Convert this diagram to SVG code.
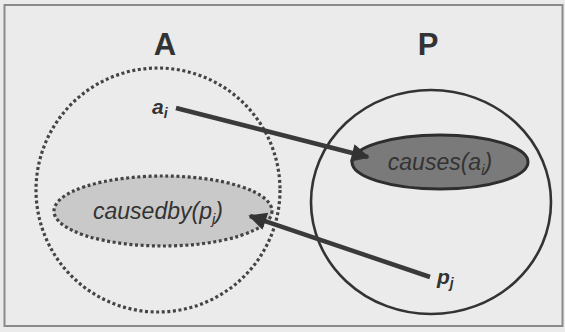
<svg xmlns="http://www.w3.org/2000/svg" width="565" height="332" viewBox="0 0 565 332">
<defs>
<style>
.lbl{font-family:"Liberation Sans",Arial,sans-serif;font-weight:bold;font-size:31px;fill:#333;text-anchor:middle}
.it{font-family:"Liberation Sans",Arial,sans-serif;font-style:italic;font-size:23px;fill:#333;text-anchor:middle}
.var{font-family:"Liberation Sans",Arial,sans-serif;font-style:italic;font-weight:bold;font-size:21px;fill:#333}
.dot{fill:none;stroke:#444;stroke-width:3.2;stroke-dasharray:3 2.6}
.conn{stroke:#3a3a3a;stroke-width:4.5;fill:none}
</style>
<marker id="ah" viewBox="0 0 10 10" refX="9" refY="5" markerWidth="4.4" markerHeight="4" orient="auto" markerUnits="strokeWidth">
<path d="M0,0 L10,5 L0,10 z" fill="#333"/>
</marker>
</defs>
<rect x="0" y="0" width="565" height="332" fill="#ebebeb"/>
<rect x="4.5" y="5" width="558" height="321" fill="none" stroke="#8a8a8a" stroke-width="2"/>
<g id="setA">
<text class="lbl" x="165" y="55">A</text>
<circle class="dot" cx="158" cy="190" r="122"/>
</g>
<g id="setP">
<text class="lbl" x="428" y="55">P</text>
<ellipse cx="431" cy="202" rx="120" ry="112" fill="none" stroke="#333" stroke-width="2.6"/>
</g>
<g id="causedby">
<ellipse class="dot" cx="163" cy="211" rx="109" ry="35" fill="#c9c9c9" style="fill:#c9c9c9"/>
<text class="it" x="158" y="219">causedby(p<tspan font-size="15" dy="5">j</tspan><tspan dy="-5">)</tspan></text>
</g>
<g id="causes">
<ellipse cx="440" cy="162" rx="88" ry="27" fill="#7a7a7a" stroke="#2e2e2e" stroke-width="3"/>
<text class="it" x="440" y="170">causes(a<tspan font-size="15" dy="5">i</tspan><tspan dy="-5">)</tspan></text>
</g>
<g id="ai">
<text class="var" x="152" y="114">a<tspan font-size="14" dy="4">i</tspan></text>
</g>
<g id="pj">
<text class="var" x="437" y="284">p<tspan font-size="14" dy="4">j</tspan></text>
</g>
<g id="connectors">
<line class="conn" x1="176" y1="108" x2="368" y2="157" marker-end="url(#ah)"/>
<line class="conn" x1="430" y1="277" x2="250" y2="216" marker-end="url(#ah)"/>
</g>
</svg>
